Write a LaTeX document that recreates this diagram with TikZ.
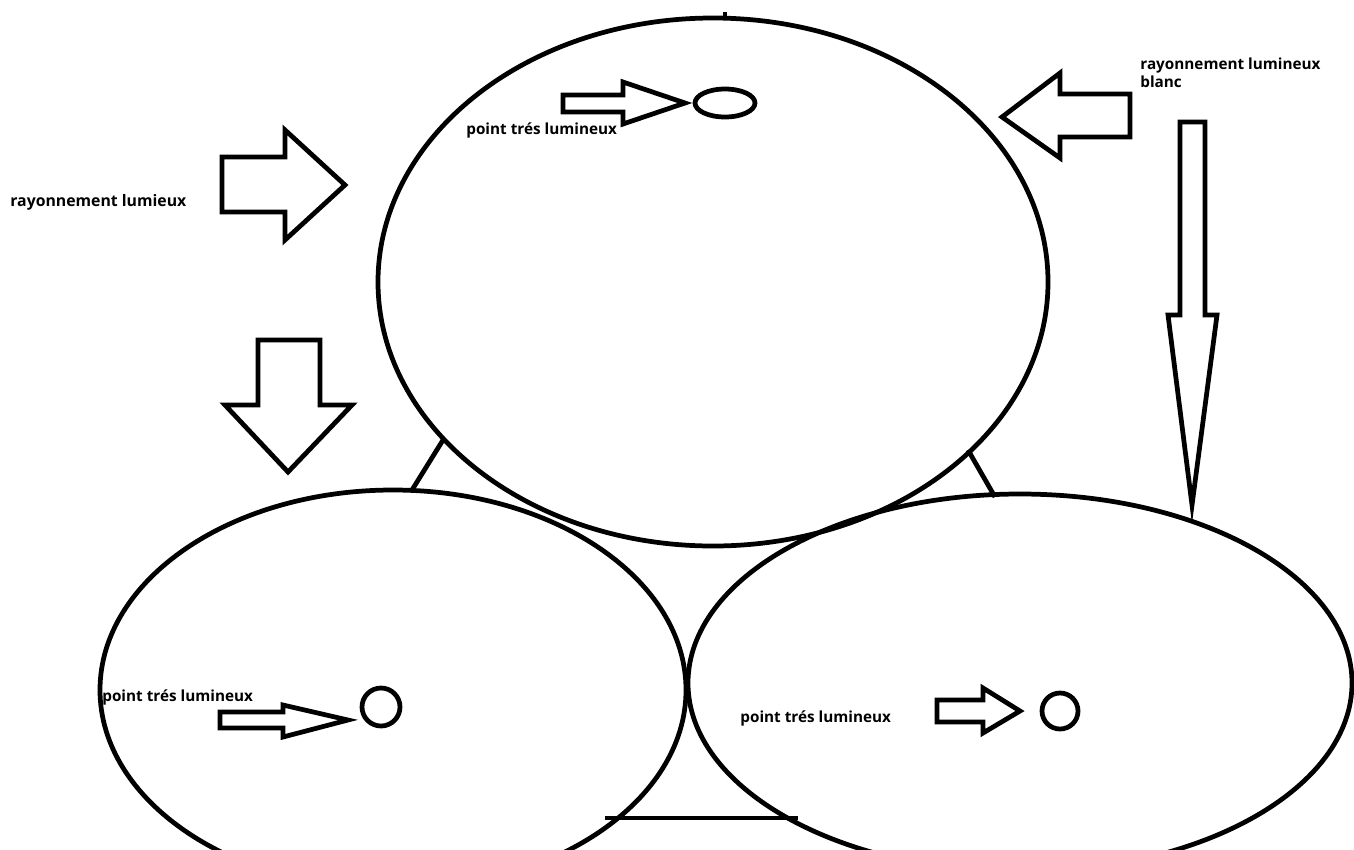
\documentclass[tikz,border=0pt]{standalone}
\usepackage{fontspec}
\setmainfont{Open Sans}
\usetikzlibrary{positioning}
\tikzset{
  globe/.style ={draw=black, line width=2.7pt},
  fleche/.style={draw=black, line width=2.7pt, line join=miter, fill=white},
  pied/.style  ={draw=black, line width=2.7pt},
  lbl/.style   ={font=\fontsize{8.7}{10.5}\selectfont\bfseries, inner sep=0pt, align=left, anchor=west},
}
\begin{document}
\begin{tikzpicture}[x=0.02cm,y=-0.02cm]
  \useasboundingbox (0,0) rectangle (1354,849);
  \clip (0,0) rectangle (1354,849);
  \fill[white] (0,0) rectangle (1354,849);
  % the three drops
  \draw[globe] (713,282) ellipse [x radius=335, y radius=264];
  \draw[globe] (393,690) ellipse [x radius=293, y radius=200];
  \draw[globe] (1020,683) ellipse [x radius=332, y radius=189];
  \draw[globe] (725,18) -- (725,12);
  % feet between the drops
  \draw[pied] (412,490) -- (443,440);
  \draw[pied] (968,450) -- (995,497);
  \draw[pied] (605,818) -- (798,818);
  % light coming in
  \draw[fleche] (222,157) -- (285,157) -- (285,130) -- (345,185) -- (285,240) -- (285,212) -- (222,212) -- cycle;
  \draw[fleche] (258,340) -- (320,340) -- (320,405) -- (352,405) -- (288,472) -- (225,405) -- (258,405) -- cycle;
  \draw[fleche] (1130,94) -- (1060,94) -- (1060,73) -- (1002,117) -- (1060,158) -- (1060,137) -- (1130,137) -- cycle;
  \draw[fleche] (1180,122) -- (1205,122) -- (1205,315) -- (1217,315) -- (1192,505) -- (1168,315) -- (1180,315) -- cycle;
  % bright spots
  \draw[fleche] (563,95) -- (623,95) -- (623,82) -- (685,103) -- (623,124) -- (623,112) -- (563,112) -- cycle;
  \draw[globe] (725,103) ellipse [x radius=30, y radius=14];
  \draw[fleche] (220,712) -- (283,712) -- (283,705) -- (348,720) -- (283,737) -- (283,728) -- (220,728) -- cycle;
  \draw[globe] (381,707) circle [radius=19];
  \draw[fleche] (937,700) -- (983,700) -- (983,688) -- (1020,711) -- (983,733) -- (983,722) -- (937,722) -- cycle;
  \draw[globe] (1060,711) circle [radius=18];
  % texts
  \node[lbl,font=\fontsize{9}{11}\selectfont\bfseries] (ray) at (10,202) {rayonnement lumieux};
  \node[lbl] (blanc) at (1140,73) {rayonnement lumineux\\blanc};
  \node[lbl] (spothaut) at (466,130) {point trés lumineux};
  \node[lbl] (spotgauche) at (102,697) {point trés lumineux};
  \node[lbl] (spotdroite) at (740,718) {point trés lumineux};
\end{tikzpicture}
\end{document}
